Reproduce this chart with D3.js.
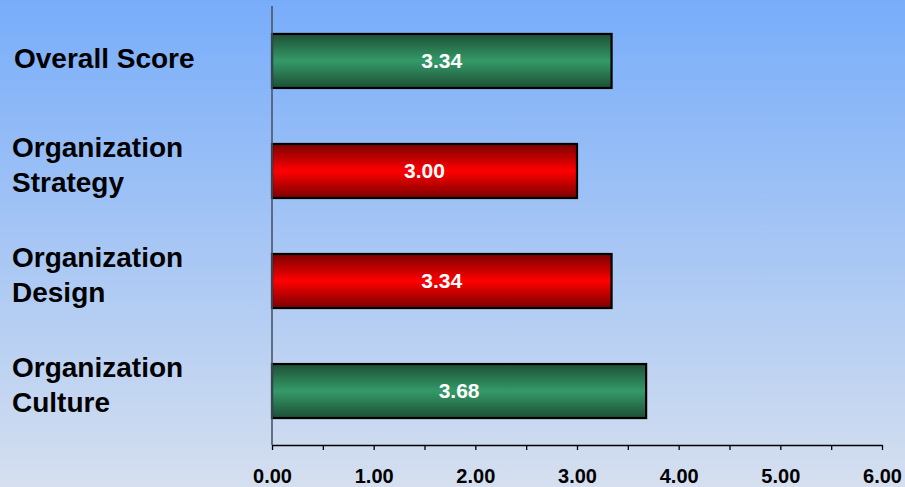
<!DOCTYPE html>
<html>
<head>
<meta charset="utf-8">
<script src="https://cdn.jsdelivr.net/npm/d3@7"></script>
<style>
  html, body { margin: 0; padding: 0; }
  body { width: 905px; height: 487px; overflow: hidden; }
  svg { display: block; }
</style>
</head>
<body>
<svg id="chart" width="905" height="487"></svg>
<script>
// ---- data ----
const categories = ["Overall Score", "Organization Strategy", "Organization Design", "Organization Culture"];
const categoryLines = [["Overall Score"], ["Organization", "Strategy"], ["Organization", "Design"], ["Organization", "Culture"]];
const scores = [3.34, 3.00, 3.34, 3.68];
const barColors = ["green", "red", "red", "green"];
const xTicks = [0, 1, 2, 3, 4, 5, 6];
const xMinorTicks = [0, 0.5, 1, 1.5, 2, 2.5, 3, 3.5, 4, 4.5, 5, 5.5, 6];

const W = 905, H = 487;
const svg = d3.select("#chart");
const defs = svg.append("defs");

// background gradient
const bg = defs.append("linearGradient").attr("id", "bg").attr("x1", 0).attr("y1", 0).attr("x2", 0).attr("y2", 1);
bg.append("stop").attr("offset", "0%").attr("stop-color", "#78adfa");
bg.append("stop").attr("offset", "100%").attr("stop-color", "#d5dfef");
svg.append("rect").attr("width", W).attr("height", H).attr("fill", "url(#bg)");

function barGrad(id, edge, mid) {
  const g = defs.append("linearGradient").attr("id", id).attr("x1", 0).attr("y1", 0).attr("x2", 0).attr("y2", 1);
  g.append("stop").attr("offset", "0%").attr("stop-color", edge);
  g.append("stop").attr("offset", "50%").attr("stop-color", mid);
  g.append("stop").attr("offset", "100%").attr("stop-color", edge);
}
barGrad("grad-green", "#1d4f35", "#349a68");
barGrad("grad-red", "#7a0000", "#ff0000");

// ---- scales ----
const x = d3.scaleLinear().domain([0, 6]).range([272, 882]);
const y = d3.scaleBand().domain(categories).range([7, 445]).paddingInner(0.509).paddingOuter(0.245);

const data = categories.map((c, i) => ({ cat: c, lines: categoryLines[i], v: scores[i], col: barColors[i] }));

// bars
svg.append("g").selectAll("rect").data(data).join("rect")
  .attr("x", x(0))
  .attr("y", d => y(d.cat))
  .attr("width", d => x(d.v) - x(0))
  .attr("height", y.bandwidth())
  .attr("fill", d => `url(#grad-${d.col})`)
  .attr("stroke", "#000")
  .attr("stroke-width", 2.2);

// value labels
svg.append("g").selectAll("text").data(data).join("text")
  .attr("x", d => (x(0) + x(d.v)) / 2)
  .attr("y", d => y(d.cat) + y.bandwidth() / 2)
  .attr("dy", "0.34em")
  .attr("text-anchor", "middle")
  .attr("fill", "#fff")
  .attr("font-family", "'Liberation Sans', Arial, sans-serif")
  .attr("font-weight", "bold")
  .attr("font-size", 21)
  .text(d => d3.format(".2f")(d.v));

// category labels (baselines)
const lineH = 35;
const labels = svg.append("g").selectAll("text").data(data).join("text")
  .attr("font-family", "'Liberation Sans', Arial, sans-serif")
  .attr("font-weight", "bold")
  .attr("font-size", 28)
  .attr("fill", "#000");
labels.each(function(d) {
  const t = d3.select(this);
  const cy = y(d.cat) + y.bandwidth() / 2;
  const n = d.lines.length;
  d.lines.forEach((ln, j) => {
    const base = n > 1 ? cy + (j - 0.5) * lineH + 3.2 : cy + 7.5;
    t.append("tspan")
      .attr("x", n > 1 ? 12 : 14)
      .attr("y", base)
      .text(ln);
  });
});

// vertical axis line
svg.append("line")
  .attr("x1", x(0)).attr("x2", x(0))
  .attr("y1", 6).attr("y2", 445)
  .attr("stroke", "#4a5566").attr("stroke-width", 1.6);

// x axis
const xAxis = d3.axisBottom(x)
  .tickValues(xMinorTicks)
  .tickSize(5)
  .tickSizeOuter(0)
  .tickPadding(19)
  .tickFormat(d => xTicks.includes(d) ? d3.format(".2f")(d) : "");
const gx = svg.append("g").attr("transform", "translate(0,445)").call(xAxis);
gx.select(".domain").attr("stroke", "#000").attr("stroke-width", 1.3);
gx.selectAll(".tick line").attr("stroke", "#000").attr("stroke-width", 1.3);
gx.selectAll(".tick text")
  .attr("fill", "#000")
  .attr("font-family", "'Liberation Sans', Arial, sans-serif")
  .attr("font-weight", "bold")
  .attr("font-size", 20);
</script>
</body>
</html>
